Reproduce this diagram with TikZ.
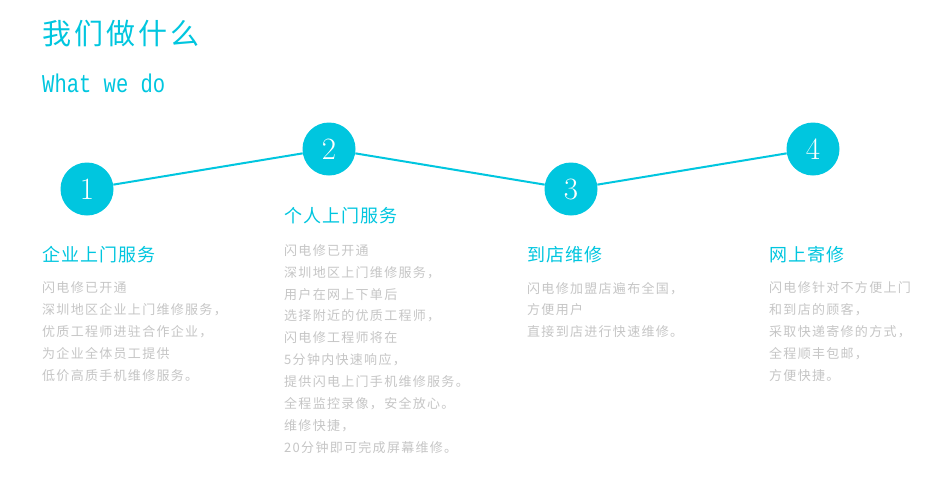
\documentclass[tikz,border=0pt]{standalone}
\usepackage{fontspec}
\newfontfamily\cjkbody[LetterSpace=10]{Noto Sans CJK SC}
\newfontfamily\cjkhead[LetterSpace=6]{Noto Sans CJK SC}
\newfontfamily\cjktitle[LetterSpace=11]{Noto Sans CJK SC}
\newfontfamily\monofont{Liberation Mono}
\definecolor{cyanc}{HTML}{00C6DF}
\definecolor{bodyc}{HTML}{C6C6C6}
\tikzset{
  bodytext/.style={anchor=base west, inner sep=0pt, text=bodyc, font=\cjkbody\fontsize{13}{13}\selectfont},
  headtext/.style={anchor=base west, inner sep=0pt, text=cyanc, font=\cjkhead\fontsize{18}{18}\selectfont},
  numcircle/.style={circle, fill=cyanc, minimum size=53pt, inner sep=0pt, text=white, font=\fontsize{31}{31}\selectfont},
  link/.style={draw=cyanc, line width=2pt}
}
\begin{document}
\begin{tikzpicture}[x=1pt,y=-1pt]
\useasboundingbox (0,0) rectangle (944,490);
\fill[white] (0,0) rectangle (944,490);
% title
\node[anchor=base west, inner sep=0pt, text=cyanc, font=\cjktitle\fontsize{29}{29}\selectfont] (title) at (42,44) {我们做什么};
\node[anchor=base west, inner sep=0pt, text=cyanc, font=\monofont\fontsize{20.5}{20.5}\selectfont] (subtitle) at (42,92) {\scalebox{1}[1.25]{What we do}};
% circles
\node[numcircle] (n1) at (87,189) {1};
\node[numcircle] (n2) at (329,149) {2};
\node[numcircle] (n3) at (571,189) {3};
\node[numcircle] (n4) at (813,149) {4};
\draw[link] (n1) -- (n2);
\draw[link] (n2) -- (n3);
\draw[link] (n3) -- (n4);
% headings
\node[headtext] (h1) at (42,261) {企业上门服务};
\node[headtext] (h2) at (284,222) {个人上门服务};
\node[headtext] (h3) at (527,261) {到店维修};
\node[headtext] (h4) at (769,261) {网上寄修};
% bodies
\foreach \t [count=\i] in {闪电修已开通, 深圳地区企业上门维修服务，, 优质工程师进驻合作企业，, 为企业全体员工提供, 低价高质手机维修服务。}
  \node[bodytext, name=a\i] at (42,{292.4+21.9*(\i-1)}) {\t};
\foreach \t [count=\i] in {闪电修已开通, 深圳地区上门维修服务，, 用户在网上下单后, 选择附近的优质工程师，, 闪电修工程师将在, 5分钟内快速响应，, 提供闪电上门手机维修服务。, 全程监控录像，安全放心。, 维修快捷，, 20分钟即可完成屏幕维修。}
  \node[bodytext, name=b\i] at (284,{255.2+21.9*(\i-1)}) {\t};
\foreach \t [count=\i] in {闪电修加盟店遍布全国，, 方便用户, 直接到店进行快速维修。}
  \node[bodytext, name=c\i] at (527,{293+21.9*(\i-1)}) {\t};
\foreach \t [count=\i] in {闪电修针对不方便上门, 和到店的顾客，, 采取快递寄修的方式，, 全程顺丰包邮，, 方便快捷。}
  \node[bodytext, name=d\i] at (769,{292.4+21.9*(\i-1)}) {\t};
\end{tikzpicture}
\end{document}
